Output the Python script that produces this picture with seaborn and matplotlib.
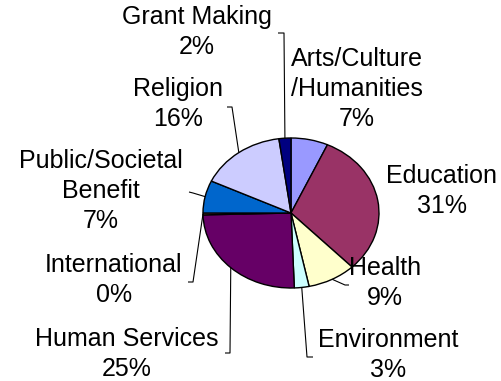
import numpy as np
import matplotlib
matplotlib.use("Agg")
import matplotlib.pyplot as plt
import seaborn as sns

# Share of giving by recipient category (percent), clockwise from 12 o'clock
categories = ["Arts/Culture\n/Humanities", "Education", "Health", "Environment",
              "Human Services", "International", "Public/Societal\nBenefit",
              "Religion", "Grant Making"]
shares = [6.8, 31.0, 8.9, 2.7, 25.2, 0.4, 7.0, 15.8, 2.2]
slice_colors = ["#9999FF", "#993366", "#FFFFCC", "#CCFFFF", "#660066",
                "#FF8080", "#0066CC", "#CCCCFF", "#000080"]

sns.set_theme(style="white")
plt.rcParams["font.family"] = ["Liberation Sans", "DejaVu Sans"]

W, H = 502, 381
fig = plt.figure(figsize=(W / 100, H / 100), dpi=100)
fig.patch.set_facecolor("white")

# pie geometry in pixels (slightly elliptical)
cx, cy, rx, ry = 291, 213, 88, 75

pie_ax = fig.add_axes([(cx - rx) / W, (H - cy - ry) / H, 2 * rx / W, 2 * ry / H])
wedges, _ = pie_ax.pie(shares, colors=sns.color_palette(slice_colors),
                       startangle=90, counterclock=False, radius=1,
                       wedgeprops=dict(edgecolor="black", linewidth=1.0))
for w in wedges:
    w.set_clip_on(False)
pie_ax.set_aspect("auto")
pie_ax.set_xlim(-1, 1)
pie_ax.set_ylim(-1, 1)
pie_ax.axis("off")

# overlay in pixel coordinates for labels and leader lines
ax = fig.add_axes([0, 0, 1, 1], zorder=3)
ax.set_xlim(0, W)
ax.set_ylim(H, 0)
ax.axis("off")
ax.patch.set_alpha(0)

total = sum(shares)
cum = np.cumsum([0] + shares)
mid_frac = (cum[:-1] + cum[1:]) / 2 / total
theta = 2 * np.pi * mid_frac
edge_x = cx + rx * np.sin(theta)
edge_y = cy - ry * np.cos(theta)

# label centre positions and leader-line elbows (pixels)
label_pos = [(357, 89), (442, 191), (385, 283), (388, 355), (127, 354),
             (114, 280), (101, 191), (178, 104), (197, 32)]
leader_elbows = [None, None, [(349, 285), (345, 285)], [(313, 357), (307, 357)],
                 [(225, 353), (230, 353)], [(188, 282), (193, 282)],
                 [(189, 192), (193, 193)], [(227, 107), (232, 107)],
                 [(278, 33), (284, 33)]]

for i, name in enumerate(categories):
    pct = int(round(shares[i] / total * 100))
    lx, ly = label_pos[i]
    ax.text(lx, ly, f"{name}\n{pct}%", ha="center", va="center",
            fontsize=18, color="black", linespacing=1.34)
    if leader_elbows[i] is not None:
        pts = leader_elbows[i] + [(edge_x[i], edge_y[i])]
        xs, ys = zip(*pts)
        ax.plot(xs, ys, color="black", linewidth=0.8, solid_capstyle="butt")

fig.savefig("out.png", dpi=100, facecolor="white")
